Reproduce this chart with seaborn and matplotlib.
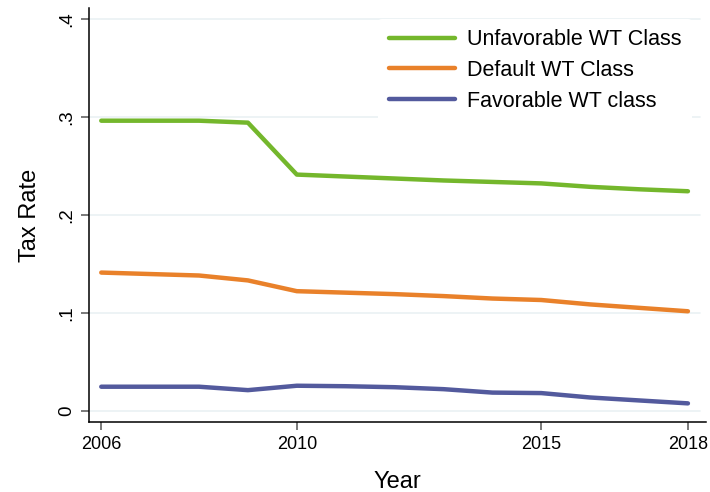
import pandas as pd
import seaborn as sns
import matplotlib.pyplot as plt

# data
years = [2006, 2008, 2009, 2010, 2011, 2012, 2013, 2014, 2015, 2016, 2017, 2018]
unfavorable = [0.296, 0.296, 0.294, 0.241, 0.239, 0.237, 0.235, 0.2335, 0.232, 0.2285, 0.226, 0.224]
default = [0.141, 0.138, 0.133, 0.122, 0.1205, 0.119, 0.117, 0.1145, 0.113, 0.1085, 0.105, 0.1015]
favorable = [0.0245, 0.0245, 0.021, 0.0255, 0.025, 0.024, 0.022, 0.0185, 0.018, 0.0135, 0.0105, 0.0075]
series_names = ["Unfavorable WT Class", "Default WT Class", "Favorable WT class"]
series_colors = ["#74b72c", "#e9812a", "#535a9d"]
xticks = [2006, 2010, 2015, 2018]
yticks = [0, 0.1, 0.2, 0.3, 0.4]
ytick_labels = ["0", ".1", ".2", ".3", ".4"]

df = pd.concat([
    pd.DataFrame({"Year": years, "rate": vals, "cls": name})
    for name, vals in zip(series_names, [unfavorable, default, favorable])
])

sns.set_style("white")
plt.rcParams['font.family'] = ['Liberation Sans', 'DejaVu Sans']
plt.rcParams['text.color'] = 'black'
plt.rcParams['axes.labelcolor'] = 'black'
plt.rcParams['xtick.color'] = 'black'
plt.rcParams['ytick.color'] = 'black'

fig = plt.figure(figsize=(7.1, 4.92), dpi=100)
ax = fig.add_axes([0.1254, 0.1423, 0.8690, 0.8414])

sns.lineplot(data=df, x="Year", y="rate", hue="cls", hue_order=series_names,
             palette=series_colors, linewidth=3.2, ax=ax, legend=True)

ax.set_xlim(2005.75, 2018.37)
ax.set_ylim(-0.0115, 0.411)
ax.set_xticks(xticks)
ax.set_xticklabels([str(x) for x in xticks], fontsize=13)
ax.set_yticks(yticks)
ax.set_yticklabels(ytick_labels, fontsize=13.5, rotation=90, va="center")
for y in yticks:
    ax.axhline(y, xmin=0, xmax=0.99, color="#eaf1f3", linewidth=1.2, zorder=0)

for s in ["top", "right"]:
    ax.spines[s].set_visible(False)
for s in ["left", "bottom"]:
    ax.spines[s].set_color("black")
    ax.spines[s].set_linewidth(1.1)
ax.tick_params(axis="both", direction="out", length=6, width=1.1, color="#555555",
               left=True, bottom=True, pad=4)

ax.set_xlabel("Year", fontsize=17, labelpad=13)
ax.set_ylabel("Tax Rate", fontsize=17, labelpad=12)

leg = ax.legend(loc="upper right", bbox_to_anchor=(0.985, 0.985), fontsize=15.5,
                frameon=True, facecolor="white", edgecolor="none", framealpha=1,
                handlelength=3.1, handletextpad=0.55, labelspacing=0.45,
                borderpad=0.5, borderaxespad=0.2)
for h in leg.get_lines():
    h.set_linewidth(3.2)

fig.savefig("out.png", dpi=100)
